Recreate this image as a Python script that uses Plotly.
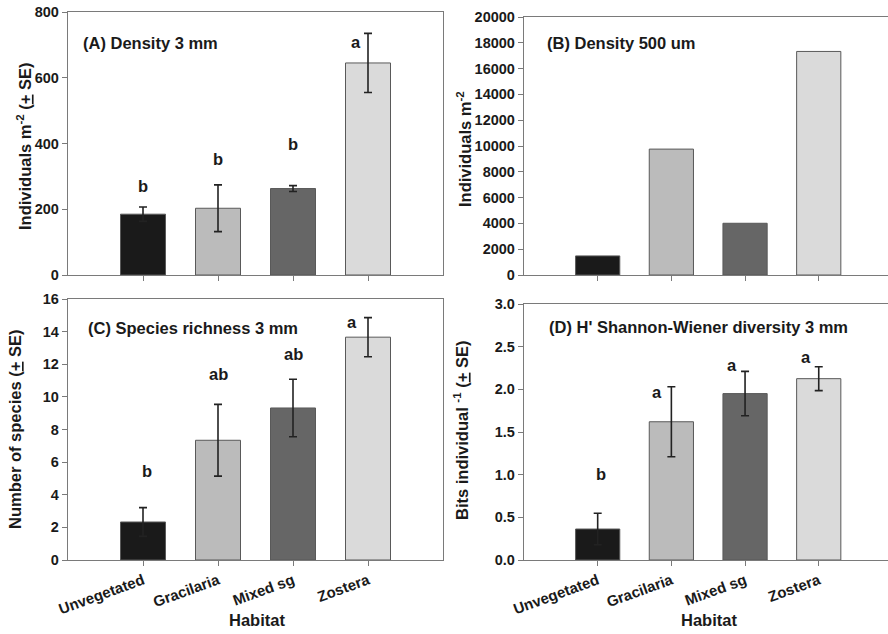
import plotly.graph_objects as go

W, H = 888, 634

habitats = ["Unvegetated", "Gracilaria", "Mixed sg", "Zostera"]
bar_colors = ["#1a1a1a", "#bbbbbb", "#666666", "#dadada"]

# (A) Density 3 mm
dens3_mean = [185, 203, 263, 645]
dens3_se = [22, 71, 9, 90]
dens3_letters = ["b", "b", "b", "a"]
dens3_letter_y = [271, 353, 398, 709]

# (B) Density 500 um
dens500_mean = [1480, 9760, 4010, 17330]

# (C) Species richness 3 mm
rich_mean = [2.33, 7.34, 9.32, 13.66]
rich_se = [0.88, 2.2, 1.76, 1.2]
rich_letters = ["b", "ab", "ab", "a"]
rich_letter_y = [5.46, 11.4, 12.6, 14.6]

# (D) Shannon-Wiener diversity 3 mm
div_mean = [0.363, 1.62, 1.95, 2.125]
div_se = [0.185, 0.41, 0.26, 0.14]
div_letters = ["b", "a", "a", "a"]
div_letter_y = [1.01, 1.97, 2.28, 2.38]

letter_dx_A = [0, 0, 0, -0.16]
letter_dx_C = [0.05, 0, 0, -0.22]
letter_dx_D = [0.05, -0.2, -0.18, -0.17]

FONT = "Liberation Sans"
AXC = "#7a7a7a"

def px(x):
    return x / W

def py(y):
    return 1 - y / H

fig = go.Figure()

def add_bars(vals, se, xa, ya):
    fig.add_trace(go.Bar(
        x=habitats, y=vals, xaxis=xa, yaxis=ya, width=0.6,
        marker=dict(color=bar_colors, line=dict(color="#595959", width=1)),
        error_y=(dict(type="data", array=se, visible=True, color="#222222",
                      thickness=1.6, width=4) if se is not None else None),
        showlegend=False, hoverinfo="skip",
    ))

add_bars(dens3_mean, dens3_se, "x", "y")
add_bars(dens500_mean, None, "x2", "y2")
add_bars(rich_mean, rich_se, "x3", "y3")
add_bars(div_mean, div_se, "x4", "y4")

common_x = dict(type="category", categoryorder="array", categoryarray=habitats,
                showline=True, linecolor=AXC, linewidth=1.3, mirror=True,
                ticks="outside", ticklen=5, tickcolor=AXC, showgrid=False,
                zeroline=False, tickangle=-20, automargin=False,
                tickfont=dict(family=FONT, size=15, color="#1a1a1a", weight="bold"))
common_y = dict(showline=True, linecolor=AXC, linewidth=1.3, mirror=True,
                ticks="outside", ticklen=5, tickcolor=AXC, showgrid=False,
                zeroline=False, automargin=False,
                tickfont=dict(family=FONT, size=14.5, color="#1a1a1a", weight="bold"))

xl, xr = px(68), px(443)
xl2, xr2 = px(524), 1.0

fig.update_layout(
    width=W, height=H, margin=dict(l=0, r=0, t=0, b=0, autoexpand=False),
    template="none",
    paper_bgcolor="white", plot_bgcolor="white", bargap=0.4,
    xaxis=dict(common_x, domain=[xl, xr], range=[-1.0, 4.0], anchor="y", showticklabels=False),
    yaxis=dict(common_y, domain=[py(275), py(12)], range=[0, 800], dtick=200, anchor="x"),
    xaxis2=dict(common_x, domain=[xl2, xr2], range=[-1.0, 3.94], anchor="y2", showticklabels=False),
    yaxis2=dict(common_y, domain=[py(275), py(17)], range=[0, 20000], dtick=2000,
                tickformat="d", anchor="x2"),
    xaxis3=dict(common_x, domain=[xl, xr], range=[-1.0, 4.0], anchor="y3"),
    yaxis3=dict(common_y, domain=[py(560), py(299)], range=[0, 16], dtick=2, anchor="x3"),
    xaxis4=dict(common_x, domain=[xl2, xr2], range=[-1.0, 3.94], anchor="y4"),
    yaxis4=dict(common_y, domain=[py(560), py(304)], range=[0, 3], dtick=0.5,
                tickformat=".1f", anchor="x4"),
)

ann = []
def add_letters(letters, ys, dx, xref, yref):
    for i, (t, yv) in enumerate(zip(letters, ys)):
        ann.append(dict(x=i + dx[i], y=yv, xref=xref, yref=yref, text=t, showarrow=False,
                        font=dict(family=FONT, size=16.5, color="#1a1a1a", weight="bold"),
                        xanchor="center", yanchor="middle"))

add_letters(dens3_letters, dens3_letter_y, letter_dx_A, "x", "y")
add_letters(rich_letters, rich_letter_y, letter_dx_C, "x3", "y3")
add_letters(div_letters, div_letter_y, letter_dx_D, "x4", "y4")

def paper_text(x, y, text, angle=0, xanchor="left", size=16.5):
    ann.append(dict(x=px(x), y=py(y), xref="paper", yref="paper", text=text,
                    showarrow=False, textangle=angle, xanchor=xanchor, yanchor="middle",
                    font=dict(family=FONT, size=size, color="#1a1a1a", weight="bold")))

paper_text(81, 43, "(A) Density 3 mm")
paper_text(545, 43, "(B) Density 500 um")
paper_text(86, 328, "(C) Species richness 3 mm")
paper_text(547, 327, "(D) H' Shannon-Wiener diversity 3 mm")

paper_text(24, 146, "Individuals m<sup>-2</sup> (<u>+</u> SE)", angle=-90, xanchor="center")
paper_text(464, 149, "Individuals m<sup>-2</sup>", angle=-90, xanchor="center")
paper_text(15, 430, "Number of species (<u>+</u> SE)", angle=-90, xanchor="center")
paper_text(461, 431, "Bits individual <sup>-1</sup> (<u>+</u> SE)", angle=-90, xanchor="center")

paper_text(257, 620, "Habitat", xanchor="center")
paper_text(709, 620, "Habitat", xanchor="center")

fig.update_layout(annotations=ann)

fig.write_html("out.html", config={"displayModeBar": False},
               post_script="document.body.style.margin='0';document.body.style.padding='0';")
